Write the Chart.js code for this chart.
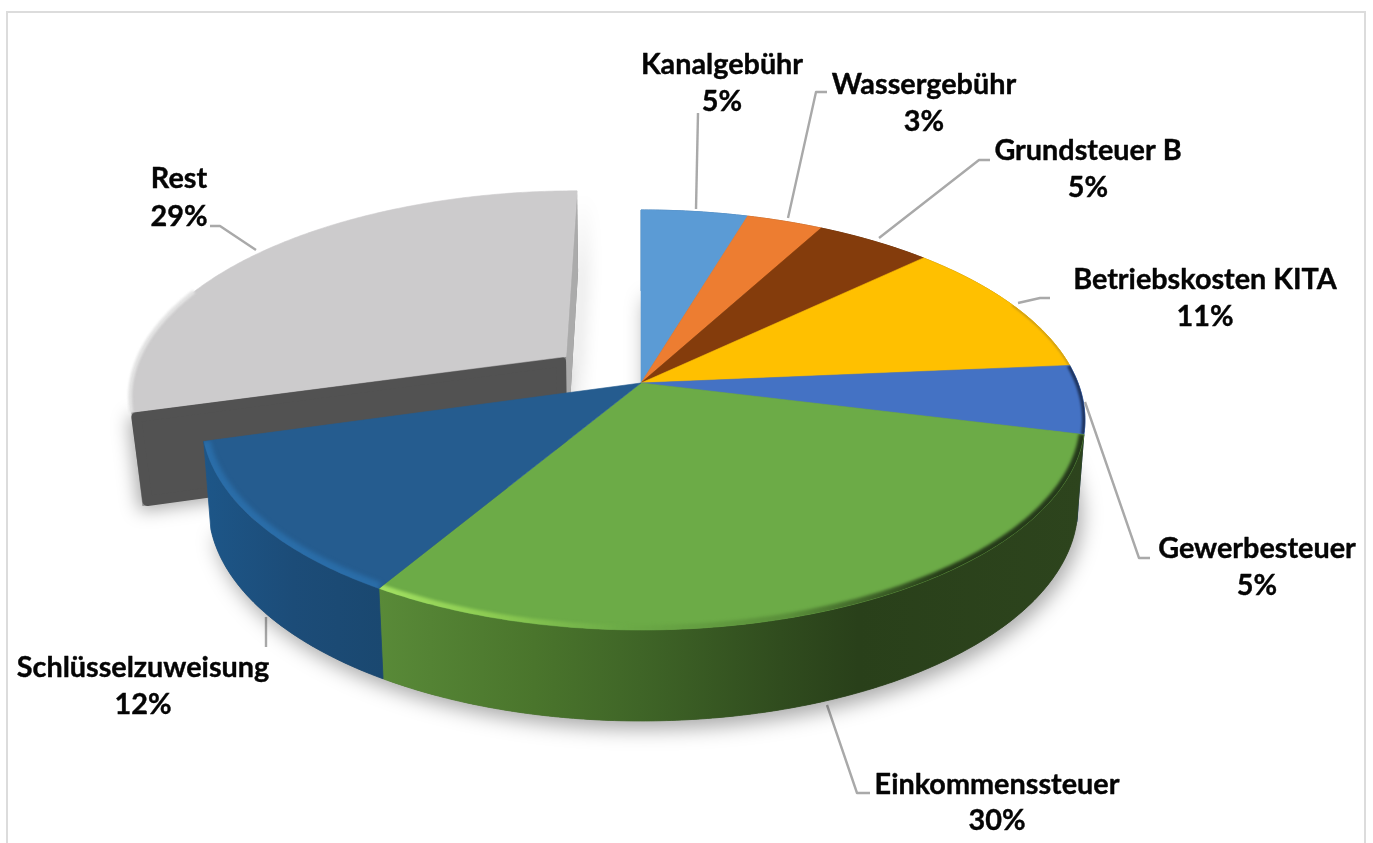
<!DOCTYPE html>
<html><head><meta charset="utf-8">
<style>html,body{margin:0;padding:0;background:#fff;overflow:hidden}#w{width:1373px;height:843px}canvas{display:block;filter:blur(0.45px)}</style>
<script src="https://cdn.jsdelivr.net/npm/chart.js@4/dist/chart.umd.min.js"></script>
</head><body><div id="w"><canvas id="c" width="1373" height="843"></canvas></div>
<script>
const categories=['Kanalgebühr','Wassergebühr','Grundsteuer B','Betriebskosten KITA','Gewerbesteuer','Einkommenssteuer','Schlüsselzuweisung','Rest'];
const shares=[4.6,3.3,5.0,10.7,5.3,29.7,12.0,29.4];
const explode=[0,0,0,0,0,0,0,0.22];
const colors=['#5B9BD5','#ED7D31','#843C0C','#FFC000','#4472C4','#6CAB47','#255C8F','#CCCBCC'];
const wallStops=[
 [[0,'#3F77AB'],[1,'#3F77AB']],[[0,'#A85822'],[1,'#A85822']],[[0,'#5C2A08'],[1,'#5C2A08']],[[0,'#B38700'],[1,'#B38700']],
 [[0,'#24406f'],[1,'#24406f']],
 [[0,'#598A38'],[0.22,'#4A752C'],[0.37,'#3F6527'],[0.57,'#304C1E'],[0.68,'#29401A'],[1,'#2D441D']],
 [[0,'#1D5688'],[0.5,'#1C4C78'],[1,'#1A4870']],
 [[0,'#A5A5A5'],[1,'#A5A5A5']]
];
const labelPos=[[722,65,102],[924,85,122],[1088,151,188],[1205,280,317],[1257,549,586],[997,785,821],[143,668,705],[179,179,217]];
const leaders=[
 [[698,113],[696,209]],
 [[827,92],[816,92],[788,218]],
 [[990,160],[979,160],[879,238]],
 [[1050,298],[1040,298],[1018,303]],
 [[1085,402],[1139,558],[1150,558]],
 [[827,705],[857,793],[870,793]],
 [[266,617],[266,647]],
 [[210,226],[220,226],[256,250]]
];
const P=0.176,AX=437,AY=203.5,SX=0.984,LEFT=0.99;
function topPt(cx,cy,u,v,lf){const w=1+P*v;return [cx+AX*u/w*(u<0?lf:1),cy-AY*v/w];}
function botPt(cx,cy,u,v,lf){const t=topPt(cx,cy,u,v,lf);return [cx+(t[0]-cx)*SX,t[1]+86-5*v];}
function th0(el){return (el.startAngle+el.endAngle)/2+Math.PI/2;}
function arcPts(el,i,fn,a0,a1){
  const d=explode[i],du=d*Math.sin(th0(el)),dv=d*Math.cos(th0(el)),lf=d?1:LEFT;
  const out=[];const n=Math.max(2,Math.ceil((a1-a0)/0.01));
  for(let k=0;k<=n;k++){const a=a0+(a1-a0)*k/n+Math.PI/2;out.push(fn(el.x,el.y,Math.sin(a)+du,Math.cos(a)+dv,lf));}
  return out;
}
function apex(el,i,fn){const d=explode[i];return fn(el.x,el.y,d*Math.sin(th0(el)),d*Math.cos(th0(el)),1);}
function poly(ctx,pts){ctx.beginPath();pts.forEach((p,k)=>k?ctx.lineTo(p[0],p[1]):ctx.moveTo(p[0],p[1]));ctx.closePath();}
function line(ctx,pts){ctx.beginPath();pts.forEach((p,k)=>k?ctx.lineTo(p[0],p[1]):ctx.moveTo(p[0],p[1]));}
const pie3d={id:'pie3d',
 beforeDatasetsDraw(chart){
  const ctx=chart.ctx,arcs=chart.getDatasetMeta(0).data,bg=chart.data.datasets[0].backgroundColor;
  ctx.save();
  ctx.strokeStyle='#DCDCDC';ctx.lineWidth=2;line(ctx,[[7,843],[7,12],[1365,12],[1365,843]]);ctx.stroke();
  ctx.strokeStyle='#A9A9A9';ctx.lineWidth=2.4;ctx.lineJoin='round';
  leaders.forEach(l=>{line(ctx,l);ctx.stroke();});
  const rest=7,re=arcs[rest];
  const A=apex(re,rest,topPt),B0=apex(re,rest,botPt),B=[B0[0],B0[1]+7];
  const rTop=arcPts(re,rest,topPt,re.startAngle,re.endAngle),rBot=arcPts(re,rest,botPt,re.startAngle,re.endAngle);
  const L=rTop[0],LB=[rBot[0][0]+3,rBot[0][1]+7],R=rTop[rTop.length-1],RB=rBot[rBot.length-1];
  ctx.save();ctx.shadowColor='rgba(0,0,0,0.34)';ctx.shadowBlur=18;ctx.shadowOffsetX=-3;ctx.shadowOffsetY=5;
  ctx.fillStyle='#888';poly(ctx,[A,L,LB,B]);ctx.fill();
  ctx.shadowColor='rgba(0,0,0,0.22)';ctx.shadowOffsetX=6;ctx.shadowOffsetY=4;poly(ctx,[R,RB,B,A]);ctx.fill();
  ctx.restore();
  ctx.fillStyle='#ABABAB';poly(ctx,[R,RB,B,A]);ctx.fill();
  ctx.fillStyle=ctx.strokeStyle='#525252';ctx.lineWidth=10;ctx.lineJoin='round';
  const ins=[[A[0]-5,A[1]+5],[L[0]+5,L[1]+5],[LB[0]+5,LB[1]-5],[B[0]-5,B[1]-5]];
  poly(ctx,ins);ctx.fill();ctx.stroke();
  const whole=[];
  arcs.forEach((el,i)=>{if(explode[i]===0)arcPts(el,i,botPt,el.startAngle,el.endAngle).forEach(p=>whole.push(p));});
  whole.push(apex(arcs[0],0,botPt));
  ctx.save();ctx.shadowColor='rgba(0,0,0,0.34)';ctx.shadowBlur=20;ctx.shadowOffsetX=4;ctx.shadowOffsetY=8;
  ctx.fillStyle='#555';poly(ctx,whole);ctx.fill();ctx.restore();
  arcs.forEach((el,i)=>{
    if(explode[i]!==0)return;
    const t=arcPts(el,i,topPt,el.startAngle,el.endAngle),b=arcPts(el,i,botPt,el.startAngle,el.endAngle);
    const xs=t.concat(b).map(p=>p[0]),x0=Math.min(...xs),x1=Math.max(...xs);
    const gl=ctx.createLinearGradient(x0,0,x1,0);
    wallStops[i].forEach(s=>gl.addColorStop(s[0],s[1]));
    ctx.fillStyle=gl;poly(ctx,t.concat(b.slice().reverse()));ctx.fill();
    ctx.strokeStyle=gl;ctx.lineWidth=0.8;ctx.stroke();
  });
  arcs.forEach((el,i)=>{
    const t=arcPts(el,i,topPt,el.startAngle,el.endAngle),a=apex(el,i,topPt);
    const path=[a].concat(t);
    ctx.fillStyle=bg[i];poly(ctx,path);ctx.fill();
    ctx.strokeStyle=bg[i];ctx.lineWidth=0.6;ctx.stroke();
    ctx.save();poly(ctx,path);ctx.clip();
    if(i===5){
      ctx.filter='blur(1.5px)';
      const g=ctx.createLinearGradient(378,0,1085,0);
      g.addColorStop(0,'#A2E062');g.addColorStop(0.16,'#8CCB52');g.addColorStop(0.34,'#6CAB47');g.addColorStop(0.58,'#5A8F3A');g.addColorStop(0.8,'#263C18');g.addColorStop(1,'#24381A');
      ctx.strokeStyle=g;ctx.lineWidth=10;line(ctx,t);ctx.stroke();
    }else if(i===6){
      ctx.filter='blur(2px)';
      ctx.strokeStyle='#2A6DA8';ctx.lineWidth=13;line(ctx,t);ctx.stroke();
    }else if(i===4){
      ctx.filter='blur(1.2px)';
      ctx.strokeStyle='#1F3560';ctx.lineWidth=6;line(ctx,t);ctx.stroke();
    }else if(i===3){
      ctx.filter='blur(1.2px)';
      ctx.strokeStyle='#B89020';ctx.lineWidth=2;line(ctx,t.slice(Math.floor(t.length*0.5)));ctx.stroke();
    }
    ctx.restore();
  });
  ctx.save();ctx.filter='blur(0.8px)';ctx.strokeStyle='#E4E4E4';ctx.lineWidth=4;line(ctx,rTop.slice(0,Math.floor(rTop.length*0.35)));ctx.stroke();ctx.restore();
  ctx.fillStyle=ctx.strokeStyle='#050505';ctx.lineWidth=0.4;ctx.textAlign='center';ctx.textBaseline='middle';ctx.font='bold 28.8px Lato, sans-serif';
  categories.forEach((c,i)=>{const p=labelPos[i],pct=Math.round(shares[i])+'%';
    ctx.fillText(c,p[0],p[1]);ctx.strokeText(c,p[0],p[1]);ctx.fillText(pct,p[0],p[2]);ctx.strokeText(pct,p[0],p[2]);});
  ctx.restore();
  return false;
 }
};
new Chart(document.getElementById('c'),{
 type:'pie',
 data:{labels:categories,datasets:[{data:shares,backgroundColor:colors,borderWidth:0,hoverOffset:0}]},
 options:{responsive:false,animation:false,layout:{padding:{left:0,right:91,top:0,bottom:77}},
  plugins:{legend:{display:false},tooltip:{enabled:false}}},
 plugins:[pie3d]
});
</script></body></html>
